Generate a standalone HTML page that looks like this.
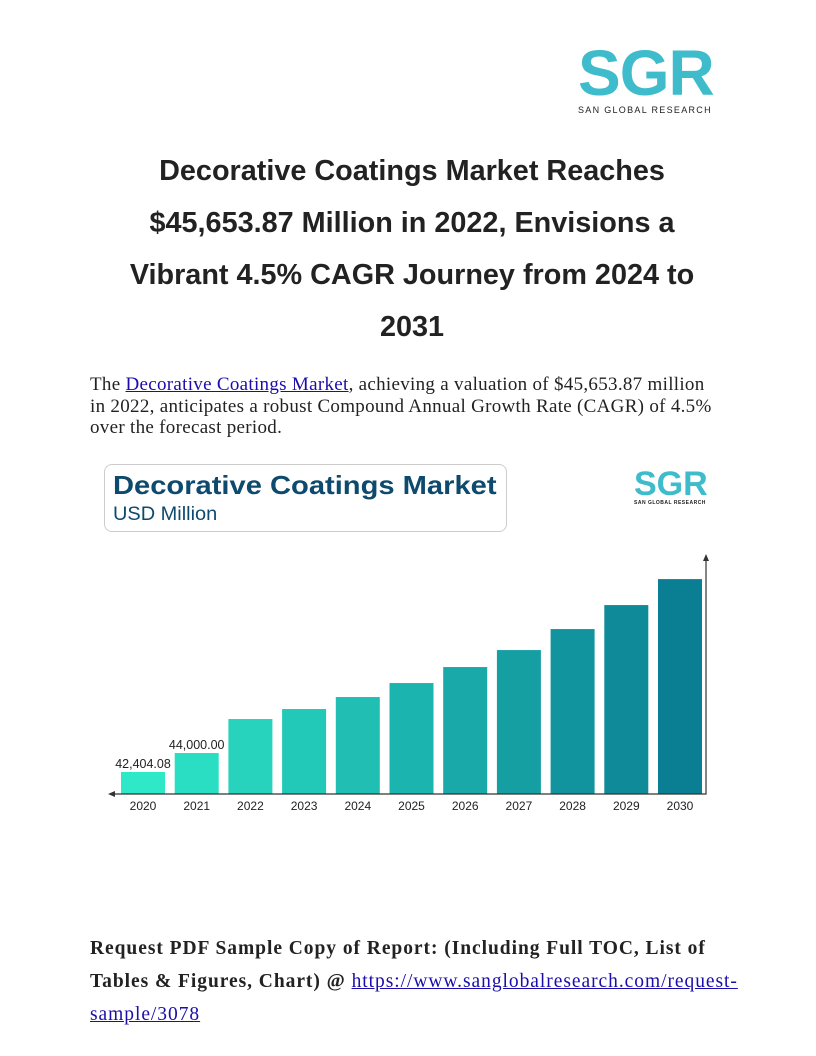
<!DOCTYPE html>
<html><head><meta charset="utf-8"><style>
*{margin:0;padding:0;box-sizing:border-box}
body{width:816px;height:1056px;background:#fff;position:relative;overflow:hidden;font-family:"Liberation Sans",sans-serif}
.abs{position:absolute}
h1{position:absolute;left:44px;width:736px;top:145px;text-align:center;font-size:28.8px;line-height:52px;font-weight:bold;color:#222}
.p{left:90px;width:680px;font-family:"Liberation Serif",serif;font-size:19px;line-height:21.5px;color:#222;white-space:nowrap;letter-spacing:0.3px}
a{color:#1a0dab;text-decoration:underline}
.req{left:90px;top:932px;width:700px;font-family:"Liberation Serif",serif;font-size:19.5px;line-height:33px;color:#222;white-space:nowrap;letter-spacing:0.95px}
</style></head><body>
<div class="abs" style="left:578px;top:44px;width:150px;height:75px">
 <div style="font-size:64px;font-weight:bold;color:#3fbccb;line-height:58px;letter-spacing:-1px">SGR</div>
 <div style="font-size:9px;letter-spacing:1.3px;color:#222;margin-top:3px;white-space:nowrap">SAN GLOBAL RESEARCH</div>
</div>
<h1>Decorative Coatings Market Reaches<br>$45,653.87 Million in 2022, Envisions a<br>Vibrant 4.5% CAGR Journey from 2024 to<br>2031</h1>
<div class="abs p" style="top:374px">The <a>Decorative Coatings Market</a>, achieving a valuation of $45,653.87 million<br>in 2022, anticipates a robust Compound Annual Growth Rate (CAGR) of 4.5%<br>over the forecast period.</div>
<div class="abs" style="left:104px;top:464px;width:403px;height:68px;border:1px solid #ccc;border-radius:8px">
 <div style="position:absolute;left:8px;top:5px;font-size:26px;font-weight:bold;color:#0d4a6e;white-space:nowrap;transform:scaleX(1.12);transform-origin:left">Decorative Coatings Market</div>
 <div style="position:absolute;left:8px;top:39px;font-size:19px;color:#0d4a6e;transform:scaleX(1.05);transform-origin:left">USD Million</div>
</div>
<div class="abs" style="left:634px;top:468px;width:80px">
 <div style="font-size:34px;font-weight:bold;color:#3fbccb;line-height:32px">SGR</div>
 <div style="font-size:5px;font-weight:bold;letter-spacing:.5px;color:#222;white-space:nowrap">SAN GLOBAL RESEARCH</div>
</div>
<svg class="abs" style="left:0;top:0" width="816" height="1056">
<g id="marks"></g>
</svg>
<div class="abs req"><b>Request PDF Sample Copy of Report: (Including Full TOC, List of<br>Tables &amp; Figures, Chart) @</b> <a>https://www.sanglobalresearch.com/request-<br>sample/3078</a></div>
<script>
const years=["2020","2021","2022","2023","2024","2025","2026","2027","2028","2029","2030"];
const values=[42404.08,44000,46856,47696,48704,49880,51224,52652,54416,56432,58616];
const labels=["42,404.08","44,000.00","","","","","","","","",""];
const NS="http://www.w3.org/2000/svg";
const g=document.getElementById("marks");
const base=794,vmin=40556,pxPer=0.0119;
const y=v=>base-(v-vmin)*pxPer;
const x=i=>121+i*53.7;
const bw=44;
function mk(t,a){const e=document.createElementNS(NS,t);for(const k in a)e.setAttribute(k,a[k]);g.appendChild(e);return e;}
const c0=[46,232,200],c1=[10,127,147];
years.forEach((yr,i)=>{
 const f=i/(years.length-1);
 const col=`rgb(${c0.map((c,j)=>Math.round(c+(c1[j]-c)*f)).join(",")})`;
 const r=mk("rect",{x:x(i),y:y(values[i]),width:bw,height:base-y(values[i]),fill:col});
 
 
 const t=mk("text",{x:x(i)+bw/2,y:base+16,"text-anchor":"middle","font-size":"12","font-family":"Liberation Sans, sans-serif",fill:"#222"});
 t.textContent=yr;
 
 
 if(labels[i]){
  const l=mk("text",{x:x(i)+bw/2,y:y(values[i])-4,"text-anchor":"middle","font-size":"12.5","font-family":"Liberation Sans, sans-serif",fill:"#222"});
  l.textContent=labels[i];
  
  
 }
});
const ax=mk("path",{d:"M110 794 H706 V558",stroke:"#333","stroke-width":"1.2",fill:"none"});


const a1=mk("path",{d:"M706 554 L703 561 L709 561 Z M108 794 L115 791 L115 797 Z",fill:"#333"});


</script>
</body></html>
